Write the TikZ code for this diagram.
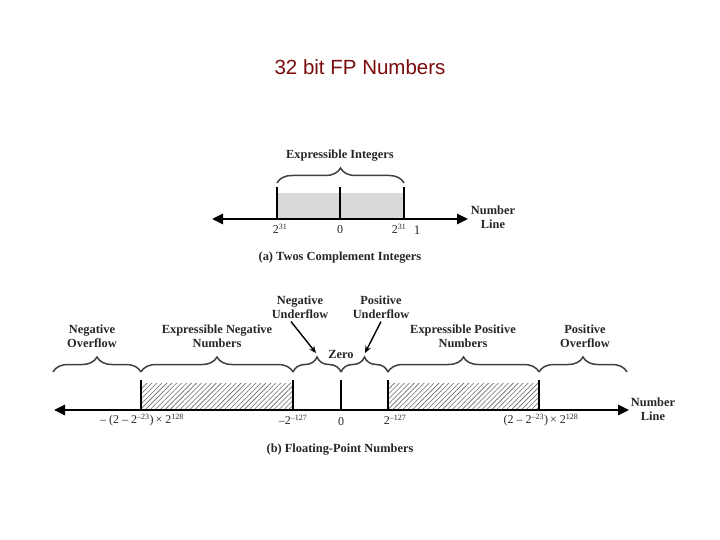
\documentclass[tikz,border=0pt]{standalone}
\usepackage{fontspec}
\setmainfont{Liberation Serif}
\newfontfamily\titlefont{Liberation Sans}
\usetikzlibrary{arrows.meta,decorations.pathreplacing,patterns.meta}
\definecolor{titlered}{HTML}{7A0C0C}
\tikzset{
  axisline/.style={line width=2.6pt,{Triangle[length=11pt,width=10pt]}-{Triangle[length=11pt,width=10pt]}},
  tickline/.style={line width=2.6pt},
  bracebig/.style={decorate,decoration={brace,amplitude=15pt},line width=1.5pt,draw=black!75},
  lbl/.style={font=\fontsize{12.4}{14}\selectfont\bfseries,align=center,text=black!85,inner sep=0pt},
  numlbl/.style={font=\fontsize{12}{13}\selectfont,inner sep=0pt,text=black!85},
  ptr/.style={line width=1.4pt,-{Stealth[length=7pt,width=6pt]}},
  hatch/.style={pattern={Lines[angle=45,distance=3.5pt,line width=0.6pt]},pattern color=black!60}
}
\begin{document}
\begin{tikzpicture}[x=1pt,y=-1pt]
\useasboundingbox (0,0) rectangle (720,540);
% title
\node[font=\titlefont\fontsize{20.5}{22}\selectfont,text=titlered] (title) at (360,67) {32 bit FP Numbers};

% ---------- (a) ----------
\fill[black!15] (277,193) rectangle (404,219);
\coordinate (aL) at (212,219);
\coordinate (aR) at (468,219);
\draw[axisline] (aL) -- (aR);
\coordinate (a1) at (277,187); \coordinate (a1b) at (277,219);
\coordinate (a2) at (340,187); \coordinate (a2b) at (340,219);
\coordinate (a3) at (404,187); \coordinate (a3b) at (404,219);
\draw[tickline] (a1) -- (a1b);
\draw[tickline] (a2) -- (a2b);
\draw[tickline] (a3) -- (a3b);
\coordinate (abL) at (277,183);
\coordinate (abR) at (404,183);
\draw[bracebig] (abL) -- (abR);
\node[lbl] (ei) at (340,156) {Expressible Integers};
\node[numlbl] (n1) at (280,229) {2\textsuperscript{31}};
\node[numlbl] (n2) at (340,230) {0};
\node[numlbl] (n3) at (399,229) {2\textsuperscript{31}};
\node[numlbl,font=\fontsize{13}{13}\selectfont] (n4) at (417,230) {1};
\node[lbl] (nla) at (493,217) {Number\\Line};
\node[lbl] (capa) at (340,258) {(a) Twos Complement Integers};

% ---------- (b) ----------
\path[hatch] (141,383) rectangle (293,410);
\path[hatch] (388,383) rectangle (539,410);
\coordinate (bL) at (54,410);
\coordinate (bR) at (629,410);
\draw[axisline] (bL) -- (bR);
\foreach \x/\n in {141/t1,293/t2,341/t3,388/t4,539/t5}{
  \coordinate (\n top) at (\x,380);
  \coordinate (\n bot) at (\x,410);
  \draw[tickline] (\n top) -- (\n bot);
}
\coordinate (e0) at (53,372);
\coordinate (e1) at (141,372);
\coordinate (e2) at (293,372);
\coordinate (e3) at (341,372);
\coordinate (e4) at (388,372);
\coordinate (e5) at (539,372);
\coordinate (e6) at (627,372);
\draw[bracebig] (e0) -- (e1);
\draw[bracebig] (e1) -- (e2);
\draw[bracebig] (e2) -- (e3);
\draw[bracebig] (e3) -- (e4);
\draw[bracebig] (e4) -- (e5);
\draw[bracebig] (e5) -- (e6);

\node[lbl] (no) at (92,336) {Negative\\Overflow};
\node[lbl] (en) at (217,336) {Expressible Negative\\Numbers};
\node[lbl] (nu) at (300,307) {Negative\\Underflow};
\node[lbl] (pu) at (381,307) {Positive\\Underflow};
\node[lbl] (zero) at (341,354) {Zero};
\node[lbl] (ep) at (463,336) {Expressible Positive\\Numbers};
\node[lbl] (po) at (585,336) {Positive\\Overflow};
\node[lbl] (nlb) at (653,409) {Number\\Line};
\coordinate (nutip) at (316,353);
\coordinate (putip) at (365,353);
\draw[ptr] ([xshift=-9pt,yshift=-3pt]nu.south) -- (nutip);
\draw[ptr] ([xshift=0pt,yshift=-3pt]pu.south) -- (putip);

\node[numlbl] (m1) at (142,420) {\textendash\ (2 \textendash\ 2\textsuperscript{\textendash23})\,\texttimes\ 2\textsuperscript{128}};
\node[numlbl] (m2) at (293,420) {\textendash2\textsuperscript{\textendash127}};
\node[numlbl] (m3) at (341,422) {0};
\node[numlbl] (m4) at (395,420) {2\textsuperscript{\textendash127}};
\node[numlbl] (m5) at (541,420) {(2 \textendash\ 2\textsuperscript{\textendash23})\,\texttimes\ 2\textsuperscript{128}};
\node[lbl] (capb) at (340,450) {(b) Floating-Point Numbers};
\end{tikzpicture}
\end{document}
